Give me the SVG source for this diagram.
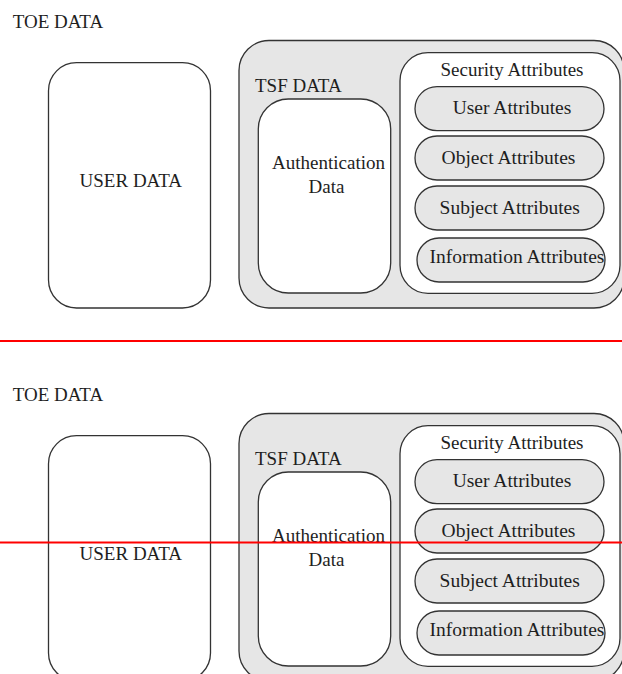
<svg xmlns="http://www.w3.org/2000/svg" width="622" height="674" viewBox="0 0 622 674">
<style>
text{font-family:"Liberation Serif","Times New Roman",serif;fill:#1e1e1e;font-size:19px}
.c{text-anchor:middle}
.box{fill:#fff;stroke:#333;stroke-width:1.3}
.grey{fill:#e6e6e6;stroke:#333;stroke-width:1.3}
.attr{font-size:19.5px}
.red{stroke:#f00;stroke-width:2;fill:none}
</style>
<g id="copy1">
  <g id="toe1"><text x="12.7" y="28">TOE DATA</text></g>
  <g id="user1"><rect class="box" x="48.5" y="62.7" width="162" height="245.3" rx="28"/><text class="c" x="130.8" y="187">USER DATA</text></g>
  <g id="tsf1"><rect class="grey" x="239" y="40.5" width="385" height="267.5" rx="30"/><text x="255" y="91.7">TSF DATA</text></g>
  <g id="auth1"><rect class="box" x="258.3" y="99" width="132.4" height="194" rx="30"/><text class="c" x="328.5" y="169.3">Authentication</text><text class="c" x="326.5" y="193.3">Data</text></g>
  <g id="sec1"><rect class="box" x="400" y="52.7" width="220" height="240.6" rx="28"/><text class="c" x="512" y="75.7">Security Attributes</text></g>
  <g id="ua1"><rect class="grey" x="415" y="86.7" width="189" height="44" rx="22"/><text class="c attr" x="512" y="114">User Attributes</text></g>
  <g id="oa1"><rect class="grey" x="415" y="136" width="189" height="44" rx="22"/><text class="c attr" x="508.5" y="164">Object Attributes</text></g>
  <g id="sa1"><rect class="grey" x="415" y="186" width="189" height="44" rx="22"/><text class="c attr" x="509.7" y="214.3">Subject Attributes</text></g>
  <g id="ia1"><rect class="grey" x="417" y="238" width="188" height="44" rx="22"/><text class="c attr" x="517" y="263.3">Information Attributes</text></g>
</g>
<g id="copy2">
  <g id="toe2"><text x="12.7" y="401">TOE DATA</text></g>
  <g id="user2"><rect class="box" x="48.5" y="435.7" width="162" height="245.3" rx="28"/><text class="c" x="130.8" y="560">USER DATA</text></g>
  <g id="tsf2"><rect class="grey" x="239" y="413.5" width="385" height="267.5" rx="30"/><text x="255" y="464.7">TSF DATA</text></g>
  <g id="auth2"><rect class="box" x="258.3" y="472" width="132.4" height="194" rx="30"/><text class="c" x="328.5" y="542.3">Authentication</text><text class="c" x="326.5" y="566.3">Data</text></g>
  <g id="sec2"><rect class="box" x="400" y="425.7" width="220" height="240.6" rx="28"/><text class="c" x="512" y="448.7">Security Attributes</text></g>
  <g id="ua2"><rect class="grey" x="415" y="459.7" width="189" height="44" rx="22"/><text class="c attr" x="512" y="487">User Attributes</text></g>
  <g id="oa2"><rect class="grey" x="415" y="509" width="189" height="44" rx="22"/><text class="c attr" x="508.5" y="537">Object Attributes</text></g>
  <g id="sa2"><rect class="grey" x="415" y="559" width="189" height="44" rx="22"/><text class="c attr" x="509.7" y="587.3">Subject Attributes</text></g>
  <g id="ia2"><rect class="grey" x="417" y="611" width="188" height="44" rx="22"/><text class="c attr" x="517" y="636.3">Information Attributes</text></g>
</g>
<g id="connectors">
  <line class="red" x1="0" y1="341" x2="622" y2="341"/>
  <line class="red" x1="0" y1="542.5" x2="622" y2="542.5"/>
</g>
</svg>
